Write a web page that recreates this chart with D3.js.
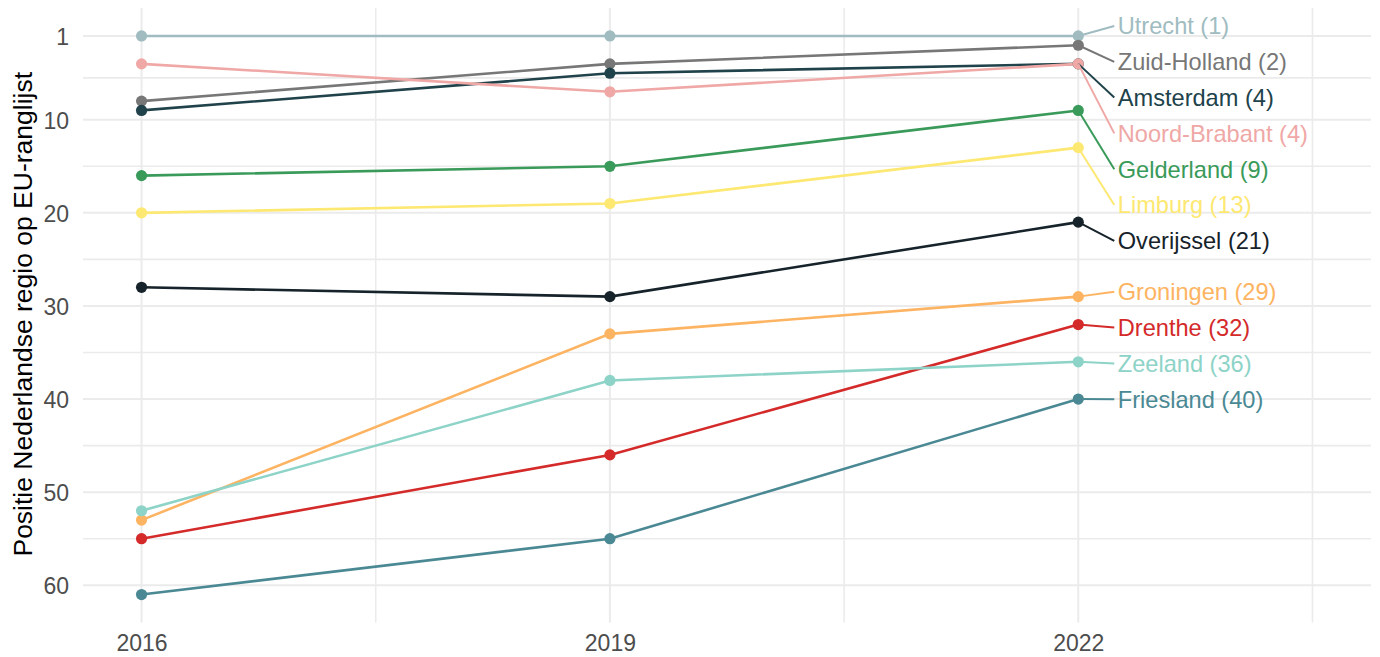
<!DOCTYPE html>
<html>
<head>
<meta charset="utf-8">
<script src="https://cdn.jsdelivr.net/npm/d3@7"></script>
<style>
  html, body { margin: 0; padding: 0; background: #fff; }
  svg { display: block; font-family: "Liberation Sans", Arial, sans-serif; }
</style>
</head>
<body>
<svg id="chart" width="1380" height="657"></svg>
<script>
// ---- data ----
const years = [2016, 2019, 2022];
const regions = ["Utrecht", "Zuid-Holland", "Amsterdam", "Noord-Brabant", "Gelderland", "Limburg",
                 "Overijssel", "Groningen", "Drenthe", "Zeeland", "Friesland"];
const utrecht      = [1, 1, 1];
const zuidHolland  = [8, 4, 2];
const amsterdam    = [9, 5, 4];
const noordBrabant = [4, 7, 4];
const gelderland   = [16, 15, 9];
const limburg      = [20, 19, 13];
const overijssel   = [28, 29, 21];
const groningen    = [53, 33, 29];
const drenthe      = [55, 46, 32];
const zeeland      = [52, 38, 36];
const friesland    = [61, 55, 40];
const seriesValues = [utrecht, zuidHolland, amsterdam, noordBrabant, gelderland, limburg,
                      overijssel, groningen, drenthe, zeeland, friesland];
const colors = ["#A0BCC1", "#777777", "#20424A", "#EFA8A6", "#3A9A5A", "#FDE872",
                "#16232A", "#FDB462", "#D42A2A", "#8DD3C7", "#4A8994"];
const yTicks = [1, 10, 20, 30, 40, 50, 60];
const yMinor = [5.5, 15, 25, 35, 45, 55];
const xTicks = [2016, 2019, 2022];
const xMinor = [2017.5, 2020.5, 2023.5];
const yTitle = "Positie Nederlandse regio op EU-ranglijst";

// ---- layout ----
const svg = d3.select("#chart");
const panel = { left: 83, right: 1371, top: 8, bottom: 622.5 };

const xData = [2016, 2023.5];
const xExp = (xData[1] - xData[0]) * 0.05;
const x = d3.scaleLinear().domain([xData[0] - xExp, xData[1] + xExp]).range([panel.left, panel.right]);
const yData = [1, 61];
const yExp = (yData[1] - yData[0]) * 0.05;
const y = d3.scaleLinear().domain([yData[0] - yExp, yData[1] + yExp]).range([panel.top, panel.bottom]);

const grid = svg.append("g");
const gridColor = "#EBEBEB";
grid.selectAll(".hmin").data(yMinor).join("line")
  .attr("x1", panel.left).attr("x2", panel.right)
  .attr("y1", d => y(d)).attr("y2", d => y(d))
  .attr("stroke", gridColor).attr("stroke-width", 1.6);
grid.selectAll(".hmaj").data(yTicks).join("line")
  .attr("x1", panel.left).attr("x2", panel.right)
  .attr("y1", d => y(d)).attr("y2", d => y(d))
  .attr("stroke", gridColor).attr("stroke-width", 2);
grid.selectAll(".vmin").data(xMinor).join("line")
  .attr("y1", panel.top).attr("y2", panel.bottom)
  .attr("x1", d => x(d)).attr("x2", d => x(d))
  .attr("stroke", gridColor).attr("stroke-width", 1.6);
grid.selectAll(".vmaj").data(xTicks).join("line")
  .attr("y1", panel.top).attr("y2", panel.bottom)
  .attr("x1", d => x(d)).attr("x2", d => x(d))
  .attr("stroke", gridColor).attr("stroke-width", 2);

// axes
const yAxis = d3.axisLeft(y).tickValues(yTicks).tickSize(0).tickPadding(0);
const gy = svg.append("g").attr("transform", `translate(${panel.left - 14},0)`).call(yAxis);
gy.select(".domain").remove();
gy.selectAll("text").attr("fill", "#4D4D4D").attr("font-size", 23)
  .attr("font-family", "Liberation Sans, Arial, sans-serif").attr("dy", "0.36em");

const xAxis = d3.axisBottom(x).tickValues(xTicks).tickFormat(d3.format("d")).tickSize(0).tickPadding(0);
const gx = svg.append("g").attr("transform", `translate(0,${panel.bottom + 8})`).call(xAxis);
gx.select(".domain").remove();
gx.selectAll("text").attr("fill", "#4D4D4D").attr("font-size", 23)
  .attr("font-family", "Liberation Sans, Arial, sans-serif").attr("dy", "0.9em");

svg.append("text")
  .attr("transform", `translate(31.5,${(panel.top + panel.bottom) / 2 - 1}) rotate(-90)`)
  .attr("text-anchor", "middle")
  .attr("font-size", 26.5)
  .attr("fill", "#000")
  .text(yTitle);

// lines & points
const data = regions.map((name, i) => ({
  name, color: colors[i],
  pts: years.map((yr, j) => ({ year: yr, rank: seriesValues[i][j] }))
}));
const line = d3.line().x(d => x(d.year)).y(d => y(d.rank));

const gl = svg.append("g");
data.forEach(s => {
  gl.append("path").attr("d", line(s.pts)).attr("fill", "none")
    .attr("stroke", s.color).attr("stroke-width", 2.6);
});
data.forEach(s => {
  gl.selectAll(null).data(s.pts).join("circle")
    .attr("cx", d => x(d.year)).attr("cy", d => y(d.rank)).attr("r", 5.6)
    .attr("fill", s.color);
});

// labels with simple repel (cluster-based)
const lastYear = years[years.length - 1];
const gap = 35.8;
const topBound = panel.top + 18;
let items = data.map(s => ({ s, rank: s.pts[s.pts.length - 1].rank, want: y(s.pts[s.pts.length - 1].rank) }));
items.sort((a, b) => a.want - b.want || 0);
let clusters = items.map(it => ({ items: [it], sum: it.want }));
function place(c) {
  const n = c.items.length;
  let start = c.sum / n - (n - 1) * gap / 2;
  if (start < topBound) start = topBound;
  c.start = start;
}
clusters.forEach(place);
let merged = true;
while (merged) {
  merged = false;
  for (let i = 0; i < clusters.length - 1; i++) {
    const a = clusters[i], b = clusters[i + 1];
    const aEnd = a.start + (a.items.length - 1) * gap;
    if (aEnd + gap > b.start) {
      const c = { items: a.items.concat(b.items), sum: a.sum + b.sum };
      place(c);
      clusters.splice(i, 2, c);
      merged = true;
      break;
    }
  }
}
const labelX = x(lastYear) + 36;
const glab = svg.append("g");
clusters.forEach(c => {
  c.items.forEach((it, k) => {
    const ly = c.start + k * gap;
    glab.append("line")
      .attr("x1", x(lastYear)).attr("y1", it.want)
      .attr("x2", labelX).attr("y2", ly)
      .attr("stroke", it.s.color).attr("stroke-width", 2);
    glab.append("text")
      .attr("x", labelX + 3.5).attr("y", ly).attr("dy", "0.36em")
      .attr("font-size", 23.6).attr("fill", it.s.color)
      .text(`${it.s.name} (${it.rank})`);
  });
});
</script>
</body>
</html>
